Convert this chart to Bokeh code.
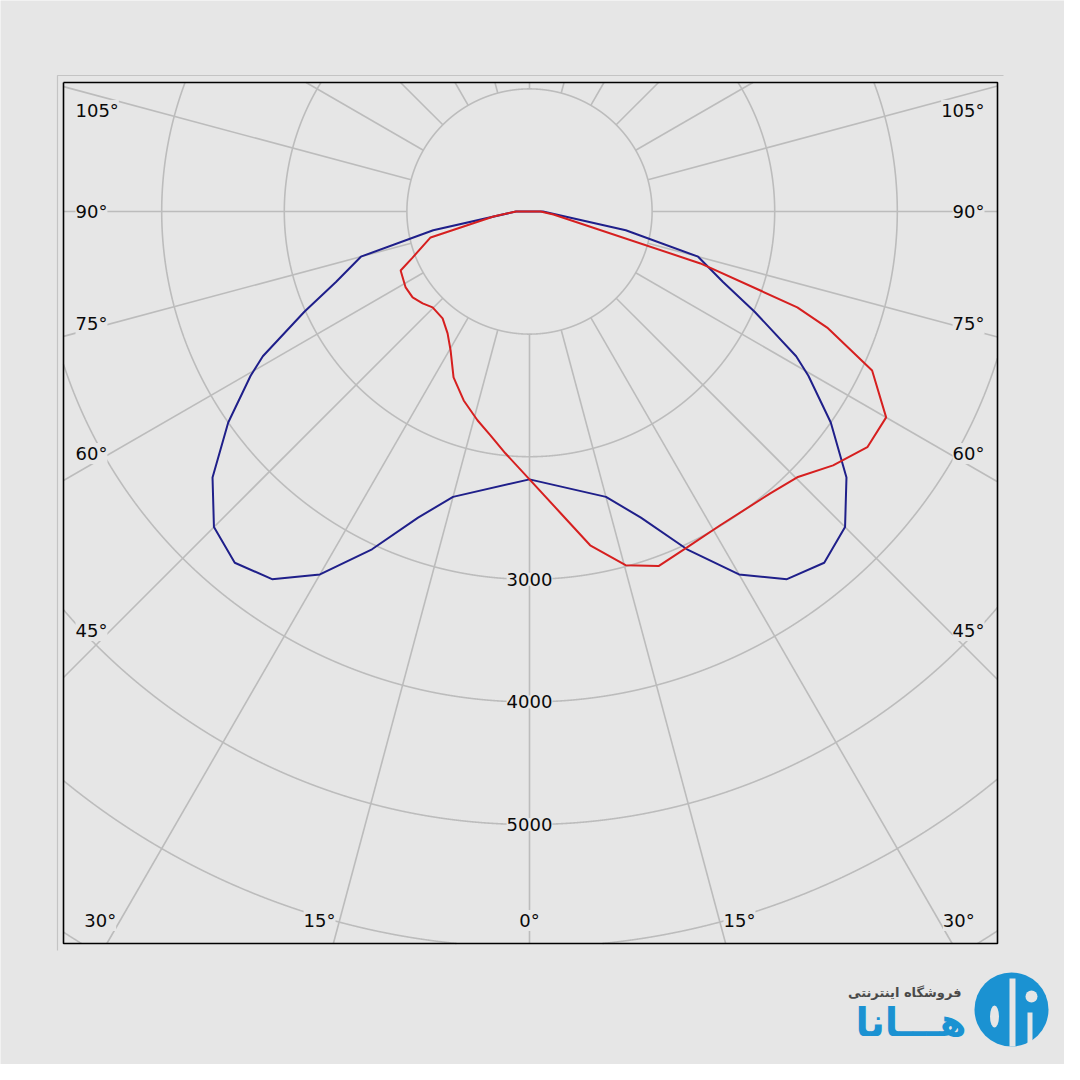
import numpy as np
from bokeh.plotting import figure
from bokeh.models import Range1d, Label
from bokeh.embed import file_html
from bokeh.resources import INLINE

# ---------------- data (cd), gamma in degrees from nadir ----------------
blue_gamma = [0, 15, 20, 25, 30, 35, 40, 45, 50, 55, 59.5, 61.5, 66, 70, 75, 79, 90, 180]
blue_cd = [2185, 2410, 2657, 3040, 3418, 3661, 3740, 3640, 3375, 3000, 2640, 2475, 2010, 1680, 1424, 800, 110, 0]

red_left_gamma = [0, 5.7, 9.9, 14, 19.2, 24.6, 29.6, 33.9, 39.1, 45.3, 49.3, 53.7, 58.5, 65.4, 68.5, 75.3, 82.1, 90, 180]
red_left_cd = [2185, 1982, 1853, 1755, 1632, 1488, 1303, 1198, 1124, 1112, 1150, 1183, 1185, 1156, 1025, 834, 296, 110, 0]

red_right_gamma = [0, 5.9, 10.3, 15.2, 20, 25.2, 31.3, 40.5, 45.2, 50.1, 55.1, 60, 65.1, 68.7, 70.3, 71.1, 73.1, 82.9, 90, 180]
red_right_cd = [2185, 2474, 2767, 2989, 3078, 3026, 2995, 3024, 3077, 3228, 3360, 3359, 3081, 2606, 2320, 1990, 1457, 197, 90, 0]

ring_values = [1000, 2000, 3000, 4000, 5000, 6000, 7000]
ring_labels = [3000, 4000, 5000]
spoke_angles = list(range(0, 360, 15))
side_angle_labels = [105, 90, 75, 60, 45]
bottom_angle_labels = [30, 15, 0]

brand_small = "فروشگاه اینترنتی"
brand_big = "هـــانا"

# ---------------- layout (picture pixels) ----------------
BG = "#e6e6e6"
GRID = "#bcbcbc"
BLUE = "#1f1f8a"
RED = "#d61f1f"
FONT = "DejaVu Sans"
W = H = 1064
OX, OY = 0, 0
CX, CY = 529, 211          # pole position
PPU = 0.1226               # pixels per cd
K = 1.0 / PPU
FL, FR, FT, FB = 63, 997, 82, 943   # inner plot frame


def X(px):
    return (px - CX) * K


def Y(py):
    return (CY - py) * K


p = figure(width=W, height=H, output_backend="svg", toolbar_location=None,
           x_range=Range1d(X(OX), X(OX + W)), y_range=Range1d(Y(OY + H), Y(OY)),
           min_border=0, background_fill_color=BG, border_fill_color=BG)
p.axis.visible = False
p.grid.visible = False
p.outline_line_color = None

xmin, xmax, ymin, ymax = X(FL), X(FR), Y(FB), Y(FT)

# ---------------- rings, clipped to frame ----------------
th = np.linspace(0, 2 * np.pi, 14401)
for R in ring_values:
    cx = R * np.sin(th)
    cy = -R * np.cos(th)
    inside = (cx >= xmin) & (cx <= xmax) & (cy >= ymin) & (cy <= ymax)
    cx = np.where(inside, cx, np.nan)
    cy = np.where(inside, cy, np.nan)
    p.line(cx, cy, line_color=GRID, line_width=1.6)

# ---------------- spokes, from first ring to frame ----------------
x0s, y0s, x1s, y1s = [], [], [], []
r0 = ring_values[0]
for a in spoke_angles:
    ar = np.radians(a)
    dx, dy = np.sin(ar), -np.cos(ar)
    ts = []
    if dx > 1e-9:
        ts.append(xmax / dx)
    if dx < -1e-9:
        ts.append(xmin / dx)
    if dy > 1e-9:
        ts.append(ymax / dy)
    if dy < -1e-9:
        ts.append(ymin / dy)
    t = min(ts)
    if t > r0:
        x0s.append(r0 * dx); y0s.append(r0 * dy)
        x1s.append(t * dx); y1s.append(t * dy)
p.segment(x0s, y0s, x1s, y1s, line_color=GRID, line_width=1.6)


# ---------------- curves ----------------
def half(gam, cd, sign):
    g = np.radians(np.array(gam, dtype=float))
    I = np.array(cd, dtype=float)
    return sign * I * np.sin(g), -I * np.cos(g)


bl_x, bl_y = half(blue_gamma, blue_cd, -1)
br_x, br_y = half(blue_gamma, blue_cd, 1)
p.line(np.concatenate([bl_x[::-1], br_x]), np.concatenate([bl_y[::-1], br_y]),
       line_color=BLUE, line_width=2)

rl_x, rl_y = half(red_left_gamma, red_left_cd, -1)
rr_x, rr_y = half(red_right_gamma, red_right_cd, 1)
p.line(np.concatenate([rl_x[::-1], rr_x]), np.concatenate([rl_y[::-1], rr_y]),
       line_color=RED, line_width=2)

# ---------------- frame ----------------
p.line([xmin, xmax, xmax, xmin, xmin], [ymax, ymax, ymin, ymin, ymax],
       line_color="black", line_width=1.6)
p.line([X(57), X(57), X(1003)], [Y(950), Y(75), Y(75)], line_color="#c4c4c4", line_width=1.2)

# ---------------- labels ----------------
lab_kw = dict(text_font=FONT, text_font_size="18px", text_color="#0a0a0a",
              background_fill_color=BG, text_baseline="middle")

for v in ring_labels:
    p.add_layout(Label(x=0, y=-v, text=str(v), text_align="center", **lab_kw))

for a in side_angle_labels:
    ar = np.radians(a)
    t = (CX - 110) / np.sin(ar)
    py = max(CY + t * np.cos(ar), 110)
    p.add_layout(Label(x=X(75), y=Y(py), text=f"{a}°", text_align="left", **lab_kw))
    p.add_layout(Label(x=X(984), y=Y(py), text=f"{a}°", text_align="right", **lab_kw))

for a in bottom_angle_labels:
    dxp = (920 - CY) * np.tan(np.radians(a))
    if a == 0:
        p.add_layout(Label(x=0, y=Y(920), text=f"{a}°", text_align="center", **lab_kw))
    else:
        p.add_layout(Label(x=X(CX - dxp), y=Y(920), x_offset=-4, text=f"{a}°",
                           text_align="right", **lab_kw))
        p.add_layout(Label(x=X(CX + dxp), y=Y(920), x_offset=4, text=f"{a}°",
                           text_align="left", **lab_kw))

# ---------------- logo ----------------
LOGO = "#1b92d2"
p.add_layout(Label(x=X(961), y=Y(992), text=brand_small, text_align="right",
                   text_baseline="middle", text_font=FONT, text_font_style="bold",
                   text_font_size="13px", text_color="#4a4a4a"))
p.add_layout(Label(x=X(966), y=Y(1022), text=brand_big, text_align="right",
                   text_baseline="middle", text_font=FONT, text_font_style="bold",
                   text_font_size="39px", text_color=LOGO))
p.circle(x=[X(1011)], y=[Y(1009)], radius=37 * K, fill_color=LOGO, line_color=None)
p.quad(left=[X(1009), X(1027)], right=[X(1015), X(1032)],
       top=[Y(978), Y(1012)], bottom=[Y(1046), Y(1043)], fill_color=BG, line_color=None)
p.ellipse(x=[X(994)], y=[Y(1016)], width=9 * K, height=22 * K, fill_color=BG, line_color=None)
p.circle(x=[X(1031)], y=[Y(996)], radius=6 * K, fill_color=BG, line_color=None)

open("out.html", "w").write(file_html(p, INLINE))
